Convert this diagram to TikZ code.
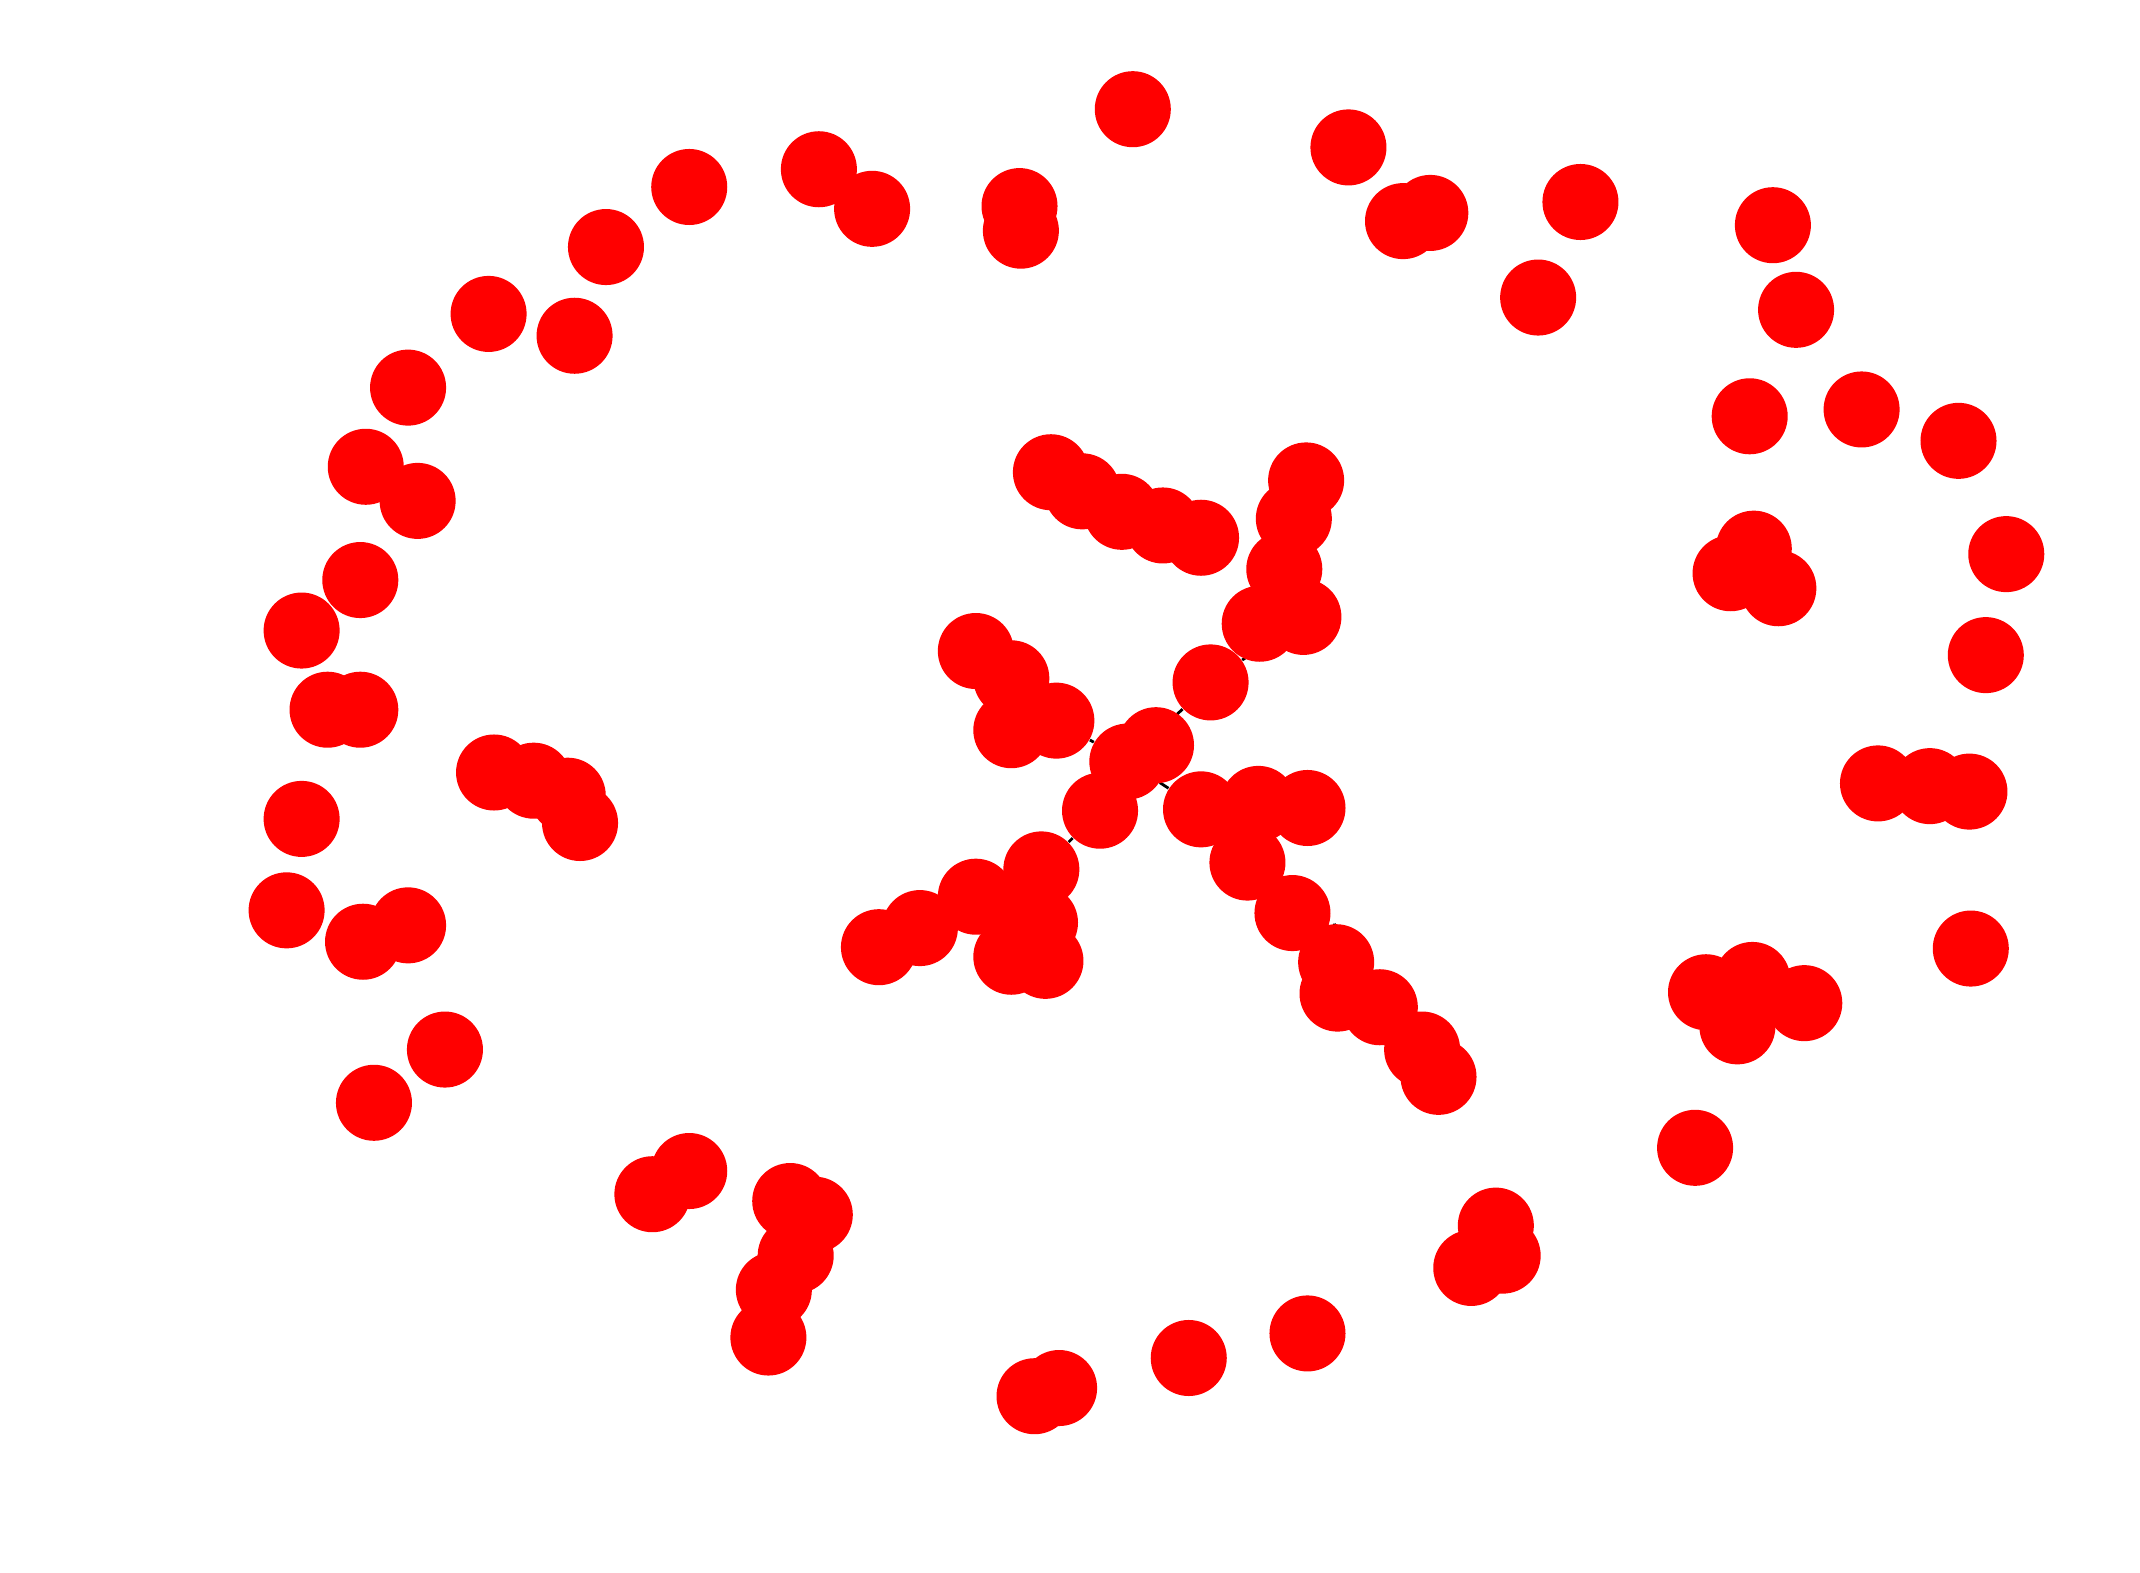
\documentclass[tikz,border=0pt]{standalone}
\usetikzlibrary{backgrounds}
\tikzset{
  vertex/.style={circle,fill=red,draw=none,inner sep=0pt,minimum size=0.76cm},
  link/.style={black,line width=0.8pt}
}
\begin{document}
\begin{tikzpicture}[x=0.013648cm,y=-0.013648cm]
  \useasboundingbox (0,0) rectangle (1568,1152);
  \foreach \n/\px/\py in {1/830/80,2/988/108,3/1048/156,4/1028/162,5/1158/148,6/1127/218,
      7/1299/165,8/1316/227,9/1282/305,10/1364/300,11/1435/323,12/1470/406,13/1455/480,
      14/1285/402,15/1268/420,16/1303/431,17/1376/574,18/1414/576,19/1443/580,20/1444/695,
      21/1250/727,22/1284/718,23/1273/752,24/1322/735,25/1242/841,26/1096/898,27/1078/929,
      28/1101/920,29/958/977,30/871/995,31/776/1017,32/758/1023,33/563/980,34/567/945,
      35/583/920,36/579/880,37/597/890,38/478/875,39/505/858,40/274/808,41/326/769,
      42/266/690,43/299/678,44/210/667,45/221/600,46/240/520,47/264/520,48/221/462,
      49/264/425,50/268/342,51/306/367,52/299/284,53/358/230,54/421/246,55/444/181,
      56/505/137,57/600/124,58/639/153,59/747/151,60/748/169,
      61/770/346,62/793/360,63/822/375,64/852/385,65/880/394,
      66/957/352,67/948/380,68/941/417,69/923/457,70/955/452,71/887/500,
      72/847/546,73/826/558,74/806/594,75/715/477,76/741/497,77/774/528,78/741/535,
      79/880/593,80/922/589,81/958/592,82/914/632,83/947/669,84/979/705,85/980/728,
      86/1011/738,87/1042/769,88/1054/789,89/763/637,90/715/657,91/762/676,92/741/701,
      93/766/704,94/674/680,95/644/694,96/362/566,97/391/572,98/416/583,99/425/603}
    \node[vertex] (v\n) at (\px,\py) {};
  \begin{scope}[on background layer]
    \foreach \a/\b in {73/72,73/71,73/77,73/79,73/74,71/70,70/69,69/68,68/67,67/66,
        77/76,76/75,77/78,79/80,80/81,80/82,82/83,83/84,84/85,85/86,86/87,87/88,
        74/89,89/91,91/92,91/93,89/90,90/94,94/95}
      \draw[link] (v\a) -- (v\b);
  \end{scope}
\end{tikzpicture}
\end{document}
